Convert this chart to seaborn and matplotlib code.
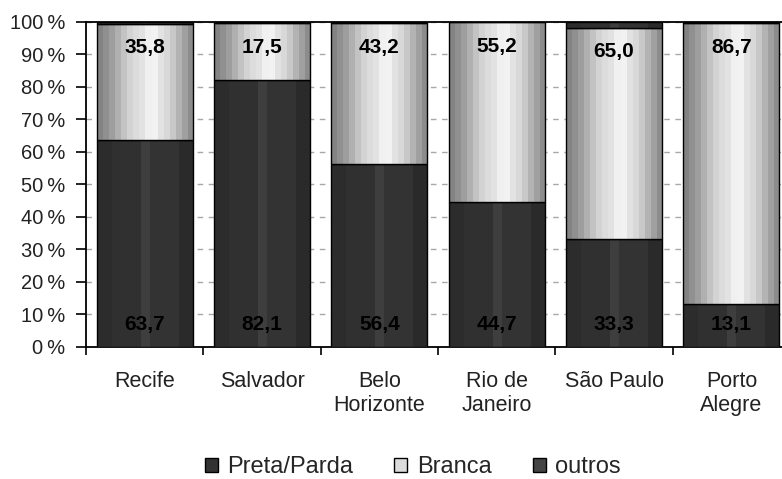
import numpy as np
import pandas as pd
import seaborn as sns
import matplotlib.pyplot as plt
from matplotlib.patches import Patch
from matplotlib.ticker import FixedLocator

cidades = ['Recife', 'Salvador', 'Belo\nHorizonte', 'Rio de\nJaneiro', 'São Paulo', 'Porto\nAlegre']
preta_parda = [63.7, 82.1, 56.4, 44.7, 33.3, 13.1]
branca = [35.8, 17.5, 43.2, 55.2, 65.0, 86.7]
outros = [0.5, 0.4, 0.4, 0.1, 1.7, 0.2]
y_ticks = [0, 10, 20, 30, 40, 50, 60, 70, 80, 90, 100]

# vertical stripes that fake the old excel cylinder shading (grey levels 0-255)
tons_escuro = [0x2c] * 3 + [0x30] * 6 + [0x3e] * 2 + [0x33] * 6 + [0x2a] * 3
tons_claro = [0x84, 0x90, 0x9e, 0xb0, 0xc4, 0xd4, 0xdc, 0xe2, 0xf0, 0xf2,
              0xe2, 0xd8, 0xc8, 0xb4, 0xa0, 0x8c]

sns.set_theme(style='white')
plt.rcParams['font.family'] = ['Liberation Sans', 'DejaVu Sans']

df = pd.DataFrame({'cidade': cidades, 'preta': preta_parda, 'branca': branca, 'outros': outros})
df['base_branca'] = df['preta']
df['base_outros'] = df['preta'] + df['branca']

fig = plt.figure(figsize=(7.82, 4.79), dpi=100)
ax = fig.add_axes([0.110, 0.2756, 0.9003, 0.6785])


def faixas(ax, patches, tons, z):
    img = np.array(tons, dtype=float)[None, :] / 255
    for p in patches:
        x0, y0 = p.get_x(), p.get_y()
        w, h = p.get_width(), p.get_height()
        ax.imshow(img, cmap='gray', vmin=0, vmax=1, extent=(x0, x0 + w, y0, y0 + h),
                  aspect='auto', interpolation='nearest', zorder=z)
        p.set_facecolor('none')
        p.set_zorder(z + 0.5)


camadas = [('preta', None, tons_escuro, 3), ('branca', 'base_branca', tons_claro, 4),
           ('outros', 'base_outros', tons_escuro, 5)]
segs = {}
for col, base, tons, z in camadas:
    n0 = len(ax.patches)
    kw = {} if base is None else {'bottom': df[base].values}
    sns.barplot(data=df, x='cidade', y=col, order=cidades, color='#333333', width=0.82,
                edgecolor='black', linewidth=1.0, ax=ax, **kw)
    segs[col] = ax.patches[n0:]
    faixas(ax, segs[col], tons, z)

# labels: dark ones at the base, light ones near the top of the segment
for p, v in zip(segs['preta'], preta_parda):
    ax.text(p.get_x() + p.get_width() / 2, p.get_y() + 6.8, f'{v:.1f}'.replace('.', ','),
            ha='center', va='center', fontsize=15, fontweight='bold', color='black', zorder=10)
for p, v in zip(segs['branca'], branca):
    ax.text(p.get_x() + p.get_width() / 2, p.get_y() + p.get_height() - 7.5,
            f'{v:.1f}'.replace('.', ','), ha='center', va='center', fontsize=15,
            fontweight='bold', color='black', zorder=10)

ax.set_xlim(-0.5, 5.5)
ax.set_ylim(0, 100)
ax.set_yticks(y_ticks)
ax.set_yticklabels([f'{t}\u2009%' for t in y_ticks], fontsize=14.5, color='#222222')
ax.yaxis.grid(True, color='#a8a8a8', linestyle=(0, (4, 4)), linewidth=1.0)
ax.set_axisbelow(True)
ax.tick_params(axis='y', direction='out', length=7, width=1.2, color='black', left=True, pad=8)

ax.set_xticks(range(len(cidades)))
ax.set_xticklabels(cidades, fontsize=15.5, color='#222222', linespacing=1.2)
ax.xaxis.set_minor_locator(FixedLocator(np.arange(-0.5, 6.0, 1.0)))
ax.tick_params(axis='x', which='major', length=0, pad=17)
ax.tick_params(axis='x', which='minor', direction='out', length=6, width=1.2, color='black', bottom=True)
ax.set_xlabel('')
ax.set_ylabel('')

for s in ['left', 'bottom', 'top']:
    ax.spines[s].set_color('black')
    ax.spines[s].set_linewidth(1.3)
ax.spines['right'].set_visible(False)

handles = [Patch(facecolor='#333333', edgecolor='black', label='Preta/Parda'),
           Patch(facecolor='#dcdcdc', edgecolor='black', label='Branca'),
           Patch(facecolor='#444444', edgecolor='black', label='outros')]
fig.legend(handles=handles, loc='center', bbox_to_anchor=(0.528, 0.025), ncol=3, frameon=False,
           fontsize=17, handlelength=0.55, handleheight=0.55, handletextpad=0.4, columnspacing=1.75)

fig.savefig('out.png', dpi=100)
